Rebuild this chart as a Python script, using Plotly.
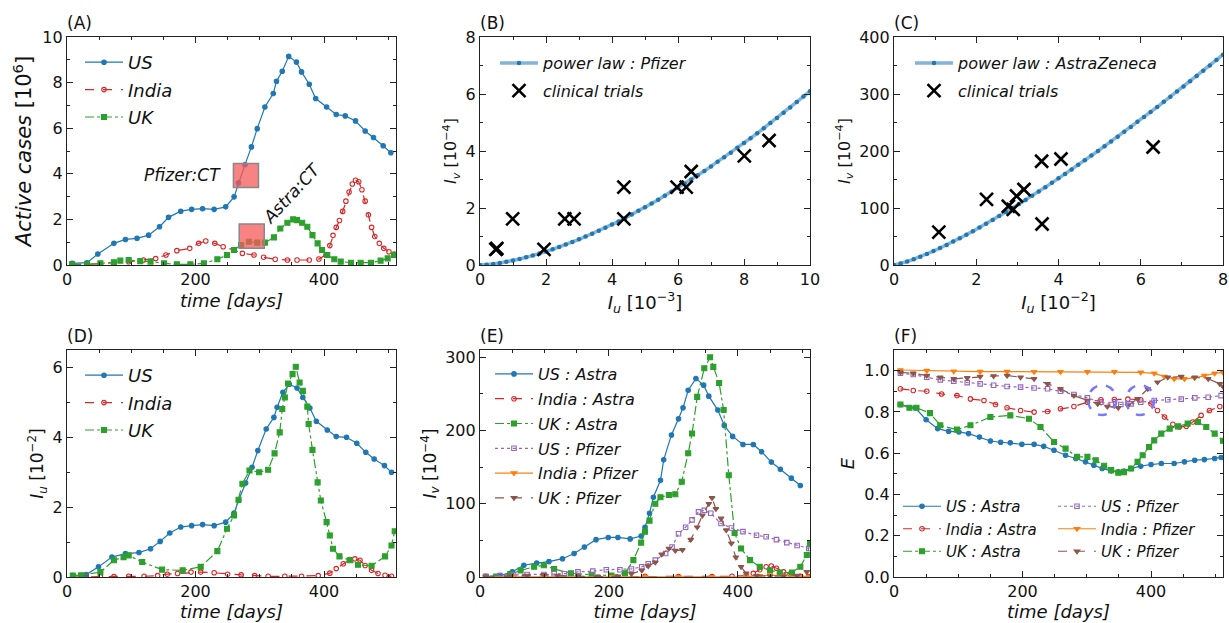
import plotly.graph_objects as go

W, H = 1229, 623
FONT = "DejaVu Sans"

# ---------------- DATA ----------------
# (A) Active cases [10^6]
A_US_T = [8,31,48,73,91,109,127,144,158,177,194,211,229,247,260,267,277,287,296,308,321,326,335,345,357,365,377,387,404,419,433,449,464,477,492,504]
A_US = [0.07,0.10,0.48,0.95,1.12,1.17,1.31,1.68,2.09,2.36,2.44,2.47,2.44,2.55,2.99,3.60,4.40,5.18,5.98,6.93,7.52,8.06,8.50,9.15,8.90,8.47,7.93,7.30,6.93,6.60,6.54,6.32,5.88,5.59,5.23,4.92]
A_IN_T = [8,31,52,73,96,119,138,154,171,191,205,216,230,243,260,273,291,306,324,343,358,377,392,403,409,414,419,424,429,434,439,444,449,454,459,464,469,474,479,486,493,501,509]
A_IN = [0.02,0.03,0.05,0.10,0.14,0.22,0.28,0.44,0.63,0.73,0.95,1.05,0.95,0.80,0.66,0.51,0.44,0.34,0.25,0.22,0.22,0.22,0.26,0.44,0.85,1.30,1.65,1.95,2.35,2.80,3.20,3.55,3.72,3.65,3.30,2.80,2.20,1.65,1.25,0.95,0.73,0.58,0.48]
A_UK_T = [8,31,52,73,83,96,114,130,151,171,192,213,234,249,260,271,283,296,308,322,332,343,352,358,366,374,382,390,397,405,416,426,442,457,473,488,499,509]
A_UK = [0.03,0.03,0.07,0.12,0.19,0.22,0.17,0.15,0.07,0.03,0.03,0.07,0.25,0.44,0.66,0.88,1.02,0.98,0.98,1.21,1.60,1.85,2.00,1.97,1.85,1.68,1.31,0.95,0.66,0.44,0.25,0.15,0.10,0.10,0.10,0.19,0.29,0.44]

# (B) power law Pfizer and clinical trials
B_PL_X = [0,0.2,0.4,0.6,0.8,1.0,1.2,1.4,1.6,1.8,2.0,2.2,2.4,2.6,2.8,3.0,3.2,3.4,3.6,3.8,4.0,4.2,4.4,4.6,4.8,5.0,5.2,5.4,5.6,5.8,6.0,6.2,6.4,6.6,6.8,7.0,7.2,7.4,7.6,7.8,8.0,8.2,8.4,8.6,8.8,9.0,9.2,9.4,9.6,9.8,10.0]
B_PL_Y = [0,0.012,0.037,0.07,0.11,0.157,0.21,0.27,0.33,0.40,0.47,0.55,0.63,0.72,0.81,0.90,1.00,1.10,1.20,1.31,1.42,1.53,1.65,1.77,1.90,2.03,2.16,2.29,2.43,2.57,2.71,2.85,3.00,3.15,3.30,3.46,3.62,3.78,3.94,4.11,4.28,4.45,4.62,4.80,4.98,5.16,5.34,5.53,5.72,5.91,6.10]
B_CT_X = [0.48,0.51,0.99,1.94,2.57,2.85,4.36,4.36,5.97,6.25,6.40,8.01,8.76]
B_CT_Y = [0.55,0.58,1.62,0.55,1.62,1.62,2.73,1.62,2.73,2.73,3.28,3.83,4.37]

# (C) power law AstraZeneca and clinical trials
C_PL_X = [0,0.16,0.32,0.48,0.64,0.8,0.96,1.12,1.28,1.44,1.6,1.76,1.92,2.08,2.24,2.4,2.56,2.72,2.88,3.04,3.2,3.36,3.52,3.68,3.84,4.0,4.16,4.32,4.48,4.64,4.8,4.96,5.12,5.28,5.44,5.6,5.76,5.92,6.08,6.24,6.4,6.56,6.72,6.88,7.04,7.2,7.36,7.52,7.68,7.84,8.0]
C_PL_Y = [0,2.5,6.0,10.1,14.5,19.4,24.5,29.8,35.3,41.1,47.0,53.1,59.4,65.8,72.4,79.0,85.9,92.8,99.8,106.9,114.2,121.5,129.0,136.4,144.1,152.0,159.8,167.6,175.7,183.6,191.9,200.1,208.5,216.8,225.2,233.6,242.2,251.1,259.8,268.5,277.2,286.2,295.2,304.2,313.2,322.4,331.7,340.9,350.2,359.6,369.0]
C_CT_X = [1.09,2.25,2.78,2.90,2.98,3.16,3.59,4.06,3.60,6.30]
C_CT_Y = [57.8,115,103,97.5,121,132.5,182,186,72,207]

# (D) I_u [10^-2]
D_US_T = [9,30,49,70,91,112,130,145,160,177,194,211,229,247,260,267,278,288,297,310,322,327,336,346,358,367,378,388,405,419,435,451,465,478,494,505]
D_US = [0.04,0.07,0.29,0.57,0.67,0.70,0.81,1.02,1.26,1.43,1.47,1.50,1.47,1.57,1.83,2.19,2.69,3.14,3.62,4.24,4.57,4.86,5.29,5.52,5.41,5.14,4.84,4.46,4.21,4.02,4.00,3.83,3.57,3.38,3.19,3.00]
D_IN_T = [9,30,52,73,96,120,141,156,172,193,208,229,250,271,292,313,339,365,391,409,419,430,440,448,456,464,474,484,495,505]
D_IN = [0.0,0.01,0.01,0.01,0.02,0.02,0.04,0.08,0.10,0.14,0.14,0.12,0.08,0.06,0.04,0.02,0.02,0.02,0.04,0.11,0.24,0.38,0.50,0.52,0.48,0.33,0.19,0.10,0.05,0.02]
D_UK_T = [9,22,52,73,88,96,117,148,180,208,234,249,260,267,273,284,299,313,323,331,335,339,344,351,356,362,367,374,376,382,390,395,404,409,414,424,440,453,474,495,505,510]
D_UK = [0.04,0.05,0.14,0.48,0.57,0.62,0.43,0.21,0.19,0.29,0.74,1.38,1.76,2.21,2.67,3.05,3.00,3.07,3.54,4.14,4.81,5.14,5.54,5.81,6.02,5.57,5.33,4.88,4.38,3.64,2.71,2.19,1.57,1.19,0.81,0.59,0.48,0.35,0.32,0.59,0.90,1.31]

# (E) I_v [10^-4]
E_USA_T = [9,31,50,68,88,107,128,146,162,180,199,214,233,250,256,263,269,280,285,297,308,315,323,335,347,355,369,379,392,408,424,437,452,466,483,497]
E_USA = [1,2,7,16,19,21,25,32,41,51,54,54,52,56,68,87,109,132,160,194,216,231,255,271,262,247,228,207,192,181,181,171,157,147,135,125]
E_INA_T = [9,52,99,152,204,256,308,360,391,413,424,434,444,452,460,471,481,497,510]
E_INA = [0,0,0.5,1,1,1,0.5,0.5,1,2,5,10,14,15,12,7,4,1,0.5]
E_UKA_T = [9,25,47,63,84,99,115,141,173,204,225,238,250,256,263,272,280,293,303,313,323,329,337,348,357,362,371,378,386,395,405,419,434,450,465,484,497,507,512]
E_UKA = [0,0.5,4,9,14,16,11,5,3,2,5,23,47,62,77,100,109,112,113,130,169,196,246,285,300,287,265,228,139,60,39,23,14,9,6,6,14,30,45]
E_USP_T = [9,31,52,73,99,115,131,152,175,196,217,235,251,261,272,288,298,308,319,329,339,348,358,374,390,408,429,444,460,476,492,510]
E_USP = [1,2,3,3.5,3.5,4.5,4.5,7,8,10,10,11,14,18,23,32,41,59,68,78,89,91,87,73,67,62,57,55,51,47,43,39]
E_INP_T = [9,52,99,152,204,256,308,360,413,434,450,471,497,510]
E_INP = [0.3,0.3,0.3,0.3,0.3,0.3,0.3,0.3,0.5,1.5,2.5,1.5,0.5,0.5]
E_UKP_T = [9,47,73,99,120,152,183,214,235,251,261,272,282,293,303,314,327,337,345,355,360,366,374,382,390,397,405,413,429,450,471,492,507]
E_UKP = [0,1,2,3,2,1,0.5,1,4.5,9,15,20,31,39,36,37,51,68,84,100,108,93,80,64,46,27,14,5,2,1,1,2,7]

# (F) E (efficacy)
F_USA_T = [10,33,50,68,85,101,116,133,150,166,181,199,218,233,249,267,283,298,311,324,338,349,358,369,384,400,416,436,452,468,483,499,509]
F_USA = [0.836,0.82,0.762,0.719,0.706,0.703,0.695,0.678,0.659,0.653,0.65,0.643,0.643,0.633,0.614,0.59,0.574,0.558,0.542,0.526,0.514,0.51,0.514,0.526,0.537,0.545,0.55,0.55,0.558,0.566,0.569,0.574,0.579]
F_INA_T = [10,30,51,74,98,119,140,158,176,197,218,239,259,280,301,322,343,364,384,400,410,421,434,444,455,465,478,491,507]
F_INA = [0.912,0.904,0.9,0.887,0.879,0.863,0.855,0.836,0.82,0.807,0.799,0.802,0.815,0.826,0.847,0.859,0.86,0.862,0.859,0.839,0.807,0.775,0.74,0.727,0.73,0.751,0.783,0.807,0.826]
F_UKA_T = [10,24,35,56,72,98,119,150,181,210,228,249,267,285,301,314,327,338,349,358,369,379,387,397,405,416,429,442,457,473,486,499,512]
F_UKA = [0.836,0.82,0.82,0.794,0.735,0.714,0.735,0.775,0.783,0.767,0.727,0.654,0.622,0.582,0.582,0.566,0.539,0.518,0.505,0.508,0.526,0.558,0.59,0.63,0.662,0.695,0.719,0.73,0.743,0.751,0.727,0.695,0.66]
F_USP_T = [10,30,51,72,93,114,134,155,176,197,218,239,259,280,301,322,338,353,369,384,405,426,447,468,489,509]
F_USP = [0.987,0.981,0.968,0.955,0.949,0.942,0.936,0.929,0.923,0.92,0.916,0.912,0.9,0.884,0.868,0.847,0.836,0.836,0.839,0.847,0.855,0.859,0.862,0.868,0.871,0.879]
F_INP_T = [10,51,93,134,176,218,259,301,343,384,405,421,436,452,468,483,499,512]
F_INP = [1.003,1.0,0.997,0.995,0.995,0.994,0.994,0.994,0.994,0.992,0.987,0.971,0.96,0.96,0.965,0.976,0.987,0.992]
F_UKP_T = [10,30,51,72,93,114,134,155,176,197,218,239,259,280,301,317,332,349,364,379,395,410,426,447,468,489,507,512]
F_UKP = [0.992,0.987,0.976,0.968,0.96,0.965,0.971,0.974,0.976,0.968,0.96,0.936,0.912,0.879,0.855,0.839,0.826,0.82,0.831,0.863,0.912,0.944,0.968,0.971,0.968,0.96,0.936,0.923]

# ---------------- STYLE ----------------
BLUE, ORANGE, GREEN, RED, PURPLE, BROWN = "#1f77b4", "#ff7f0e", "#2ca02c", "#d62728", "#9467bd", "#8c564b"
STY = {
    "US": dict(color=BLUE, dash="solid", symbol="circle", msize=4.5),
    "IN": dict(color=RED, dash="dash", symbol="circle-open", msize=4.5),
    "UK": dict(color=GREEN, dash="dashdot", symbol="square", msize=5),
    "USP": dict(color=PURPLE, dash="dot", symbol="square-open", msize=4.5),
    "INP": dict(color=ORANGE, dash="solid", symbol="triangle-down", msize=5),
    "UKP": dict(color=BROWN, dash="dash", symbol="triangle-down", msize=5),
}

def px_x(a, b):
    return [a / W, b / W]

def px_y(top, bottom):
    return [1 - bottom / H, 1 - top / H]

COLS = [(67, 396), (480, 810), (894, 1223)]
ROWS = [(37, 265), (350, 577)]

fig = go.Figure()

def series(x, y, key, name, ax, legend, lw=1.2):
    s = STY[key]
    fig.add_trace(go.Scatter(
        x=x, y=y, mode="lines+markers", name=name,
        line=dict(color=s["color"], dash=s["dash"], width=lw),
        marker=dict(symbol=s["symbol"], size=s["msize"], color=s["color"],
                    line=dict(color=s["color"], width=1.1)),
        xaxis="x" + ax, yaxis="y" + ax, legend=legend, legendgroup=legend + name,
    ))

it = lambda t: "<i>" + t + "</i>"

# A
series(A_US_T, A_US, "US", it("US"), "", "legend")
series(A_IN_T, A_IN, "IN", it("India"), "", "legend")
series(A_UK_T, A_UK, "UK", it("UK"), "", "legend")
# D
series(D_US_T, D_US, "US", it("US"), "4", "legend4")
series(D_IN_T, D_IN, "IN", it("India"), "4", "legend4")
series(D_UK_T, D_UK, "UK", it("UK"), "4", "legend4")
# E
series(E_USA_T, E_USA, "US", it("US : Astra"), "5", "legend5")
series(E_INA_T, E_INA, "IN", it("India : Astra"), "5", "legend5")
series(E_UKA_T, E_UKA, "UK", it("UK : Astra"), "5", "legend5")
series(E_USP_T, E_USP, "USP", it("US : Pfizer"), "5", "legend5")
series(E_INP_T, E_INP, "INP", it("India : Pfizer"), "5", "legend5")
series(E_UKP_T, E_UKP, "UKP", it("UK : Pfizer"), "5", "legend5")
# F
series(F_USA_T, F_USA, "US", it("US : Astra"), "6", "legend6")
series(F_INA_T, F_INA, "IN", it("India : Astra"), "6", "legend6")
series(F_UKA_T, F_UKA, "UK", it("UK : Astra"), "6", "legend6")
series(F_USP_T, F_USP, "USP", it("US : Pfizer"), "6", "legend7")
series(F_INP_T, F_INP, "INP", it("India : Pfizer"), "6", "legend7")
series(F_UKP_T, F_UKP, "UKP", it("UK : Pfizer"), "6", "legend7")

# B and C
for ax, plx, ply, ctx, cty, nm, lg in [("2", B_PL_X, B_PL_Y, B_CT_X, B_CT_Y, "power law : Pfizer", "legend2"),
                                       ("3", C_PL_X, C_PL_Y, C_CT_X, C_CT_Y, "power law : AstraZeneca", "legend3")]:
    fig.add_trace(go.Scatter(x=plx, y=ply, mode="lines+markers", name=it(nm),
                             line=dict(color="rgba(31,119,180,0.55)", width=3.5),
                             marker=dict(symbol="circle", size=4.5, color=BLUE),
                             xaxis="x" + ax, yaxis="y" + ax, legend=lg, legendgroup=lg + "a"))
    fig.add_trace(go.Scatter(x=ctx, y=cty, mode="markers", name=it("clinical trials"),
                             marker=dict(symbol="x-thin-open", size=13, color="black",
                                         line=dict(color="black", width=2.6)),
                             xaxis="x" + ax, yaxis="y" + ax, legend=lg, legendgroup=lg + "b"))

def axis(dom, rng, dtick, minor, anchor, title="", tsize=18, standoff=6, fmt=None):
    d = dict(domain=dom, range=rng, dtick=dtick, tick0=0, anchor=anchor, automargin=False,
             showline=True, linecolor="#222", linewidth=1.2, mirror="allticks",
             ticks="inside", ticklen=6, tickwidth=1, tickcolor="#222",
             ticklabeloverflow="allow",
             minor=dict(ticks="inside", ticklen=3, dtick=minor, tick0=0, tickcolor="#222", tickwidth=1),
             showgrid=False, zeroline=False,
             tickfont=dict(size=16, family=FONT, color="#111"),
             title=dict(text=title, font=dict(size=tsize, family=FONT, color="#111"), standoff=standoff))
    if fmt:
        d["tickformat"] = fmt
    return d

TIME = "<i>time [days]</i>"
layout = dict(
    width=W, height=H, margin=dict(l=0, r=0, t=0, b=0, autoexpand=False),
    paper_bgcolor="white", plot_bgcolor="white", showlegend=True,
    font=dict(family=FONT, color="#111"),
    xaxis=axis(px_x(*COLS[0]), [0, 512], 200, 50, "y", TIME),
    yaxis=axis(px_y(*ROWS[0]), [0, 10], 2, 1, "x", "<i>Active cases</i> [10<sup>6</sup>]", tsize=21, standoff=4),
    xaxis2=axis(px_x(*COLS[1]), [0, 10], 2, 1, "y2", "<i>I<sub>u</sub></i> [10<sup>−3</sup>]", tsize=18),
    yaxis2=axis(px_y(*ROWS[0]), [0, 8], 2, 1, "x2", "<i>I<sub>v</sub></i> [10<sup>−4</sup>]", tsize=16, standoff=4),
    xaxis3=axis(px_x(*COLS[2]), [0, 8], 2, 1, "y3", "<i>I<sub>u</sub></i> [10<sup>−2</sup>]", tsize=18),
    yaxis3=axis(px_y(*ROWS[0]), [0, 400], 100, 50, "x3", "<i>I<sub>v</sub></i> [10<sup>−4</sup>]", tsize=16, standoff=4),
    xaxis4=axis(px_x(*COLS[0]), [0, 512], 200, 50, "y4", TIME, standoff=0),
    yaxis4=axis(px_y(*ROWS[1]), [0, 6.5], 2, 1, "x4", "<i>I<sub>u</sub></i> [10<sup>−2</sup>]", tsize=17, standoff=4),
    xaxis5=axis(px_x(*COLS[1]), [0, 512], 200, 50, "y5", TIME, standoff=0),
    yaxis5=axis(px_y(*ROWS[1]), [0, 310], 100, 50, "x5", "<i>I<sub>v</sub></i> [10<sup>−4</sup>]", tsize=17, standoff=4),
    xaxis6=axis(px_x(*COLS[2]), [0, 512], 200, 50, "y6", TIME, standoff=0),
    yaxis6=axis(px_y(*ROWS[1]), [0, 1.1], 0.2, 0.1, "x6", "<i>E</i>", tsize=18, standoff=4, fmt=".1f"),
)

def leg(xpx, ypx, size, gap):
    return dict(x=xpx / W, y=1 - ypx / H, xanchor="left", yanchor="top",
                bgcolor="rgba(0,0,0,0)", borderwidth=0, tracegroupgap=gap,
                font=dict(size=size, family=FONT, color="#111"), itemwidth=38)

layout["legend"] = leg(80, 44, 18, 1)
layout["legend2"] = leg(495, 46, 16, 4)
layout["legend3"] = leg(910, 46, 16, 4)
layout["legend4"] = leg(80, 357, 18, 1)
layout["legend5"] = leg(490, 357, 16, 1)
layout["legend6"] = leg(898, 490, 15, 0)
layout["legend7"] = leg(1053, 490, 15, 0)

fig.update_layout(**layout)

# panel labels
for lab, (c, r) in zip("ABCDEF", [(0, 0), (1, 0), (2, 0), (0, 1), (1, 1), (2, 1)]):
    fig.add_annotation(text="(" + lab + ")", xref="paper", yref="paper",
                       x=(COLS[c][0] - 2) / W, y=1 - (ROWS[r][0] - 2) / H,
                       xanchor="left", yanchor="bottom", showarrow=False,
                       font=dict(size=17, family=FONT, color="#111"))

# clinical-trial windows in (A)
fig.add_shape(type="rect", xref="x", yref="y", x0=259, x1=298, y0=3.4, y1=4.45,
              fillcolor="rgba(245,90,90,0.75)", line=dict(color="#888", width=1.5), layer="above")
fig.add_shape(type="rect", xref="x", yref="y", x0=268, x1=307, y0=0.73, y1=1.8,
              fillcolor="rgba(245,90,90,0.75)", line=dict(color="#888", width=1.5), layer="above")
fig.add_annotation(text="<i>Pfizer:CT</i>", xref="x", yref="y", x=179, y=3.95, showarrow=False,
                   font=dict(size=17, family=FONT, color="#111"))
fig.add_annotation(text="<i>Astra:CT</i>", xref="x", yref="y", x=350, y=3.16, showarrow=False,
                   textangle=-47, font=dict(size=17, family=FONT, color="#111"))

# highlighted crossings in (F)
for cx in [324, 383]:
    fig.add_shape(type="circle", xref="x6", yref="y6", x0=cx - 22, x1=cx + 22, y0=0.785, y1=0.93,
                  line=dict(color="#7878ff", width=2.5, dash="dash"))

fig.write_html("out.html", config={"displayModeBar": False},
               post_script="document.body.style.margin='0px';document.body.style.padding='0px';")
